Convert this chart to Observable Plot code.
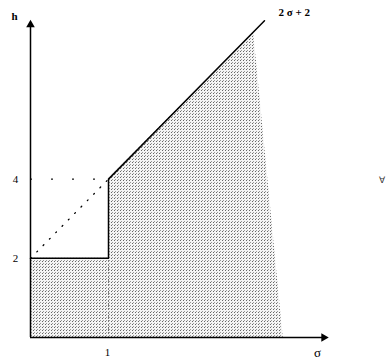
<!DOCTYPE html>
<html><head><meta charset="utf-8">
<script src="https://cdn.jsdelivr.net/npm/d3@7"></script>
<script src="https://cdn.jsdelivr.net/npm/@observablehq/plot@0.6"></script>
<style>body{margin:0;background:#fff}</style>
</head><body><div id="chart"></div>
<script>
// main boundary h(σ)
const solidSigma = [0, 1, 1, 3];
const solidH = [2, 2, 4, 8];
// shaded region outline (above σ-axis)
const shadeSigma = [0, 1, 1, 2.86, 3.24];
const shadeH = [2, 2, 4, 7.72, 0];
// dotted guide lines
const diagSigma = [0, 1];
const diagH = [2, 4];
const hGuideSigma = [0, 1];
const hGuideH = [4, 4];
const vGuideSigma = [1, 1];
const vGuideH = [0, 2];
// tick labels
const hTicks = [2, 4];
const sigmaTicks = [1];
const lineLabel = "2 σ + 2";

const pts = (xs, ys) => xs.map((s, i) => ({s, h: ys[i]}));
const serif = "Liberation Serif, Times New Roman, serif";

const svg = Plot.plot({
  width: 388,
  height: 359,
  margin: 0,
  x: {domain: [0, 3.8], range: [30, 326.4], axis: null},
  y: {domain: [0, 8], range: [337, 20.2], axis: null},
  style: {fontFamily: serif, background: "#fff"},
  marks: [
    Plot.areaY(pts(shadeSigma, shadeH), {x: "s", y1: 0, y2: "h", fill: "url(#stip)"}),
    Plot.line(pts(vGuideSigma, vGuideH), {x: "s", y: "h", stroke: "#777", strokeWidth: 1, strokeDasharray: "1,3"}),
    Plot.line(pts(diagSigma, diagH), {x: "s", y: "h", stroke: "#000", strokeWidth: 1.3, strokeDasharray: "1,8", strokeLinecap: "round"}),
    Plot.line(pts(hGuideSigma, hGuideH), {x: "s", y: "h", stroke: "#000", strokeWidth: 1.3, strokeDasharray: "1,20", strokeLinecap: "round"}),
    Plot.line(pts(solidSigma, solidH), {x: "s", y: "h", stroke: "#000", strokeWidth: 1.5}),
    // axes
    Plot.ruleX([0], {y1: 0, y2: 7.85, stroke: "#000", strokeWidth: 1.5}),
    Plot.ruleY([0], {x1: 0, x2: 3.75, stroke: "#000", strokeWidth: 1.5}),
    Plot.dot([{s: 0, h: 7.9}], {x: "s", y: "h", symbol: "triangle", r: 3.2, fill: "#000", stroke: null}),
    Plot.dot([{s: 3.76, h: 0}], {x: "s", y: "h", symbol: "triangle", r: 3.2, fill: "#000", stroke: null, rotate: 90}),
    // tick labels
    Plot.text(hTicks, {x: 0, y: d => d, text: d => String(d), dx: -15, fontSize: 11, fill: "#000"}),
    Plot.text(sigmaTicks, {x: d => d, y: 0, text: d => String(d), dy: 15, dx: -1, fontSize: 11, fill: "#000"}),
    Plot.text(["σ"], {x: 3.68, y: 0, text: d => d, dy: 15, fontSize: 13, fill: "#000"}),
    Plot.text(["h"], {x: 0, y: 8, text: d => d, dx: -16, dy: -4, fontSize: 11, fontWeight: "bold", fill: "#000"}),
    Plot.text([lineLabel], {x: 3, y: 8, text: d => d, dx: 14, dy: -8, textAnchor: "start", fontSize: 11, fontWeight: "bold", fill: "#000"}),
    Plot.text(["∀"], {x: 3.8, y: 4, text: d => d, dx: 55, dy: 1, fontSize: 9, fill: "#333"})
  ]
});

const ns = "http://www.w3.org/2000/svg";
const defs = document.createElementNS(ns, "defs");
defs.innerHTML = `<pattern id="stip" width="3" height="3" patternUnits="userSpaceOnUse">
  <rect width="3" height="3" fill="#f4f4f4"/>
  <rect x="0" y="0" width="1" height="1" fill="#666"/>
  <rect x="1" y="2" width="1" height="1" fill="#999"/>
</pattern>`;
svg.insertBefore(defs, svg.firstChild);
document.getElementById("chart").appendChild(svg);
</script>
</body></html>
